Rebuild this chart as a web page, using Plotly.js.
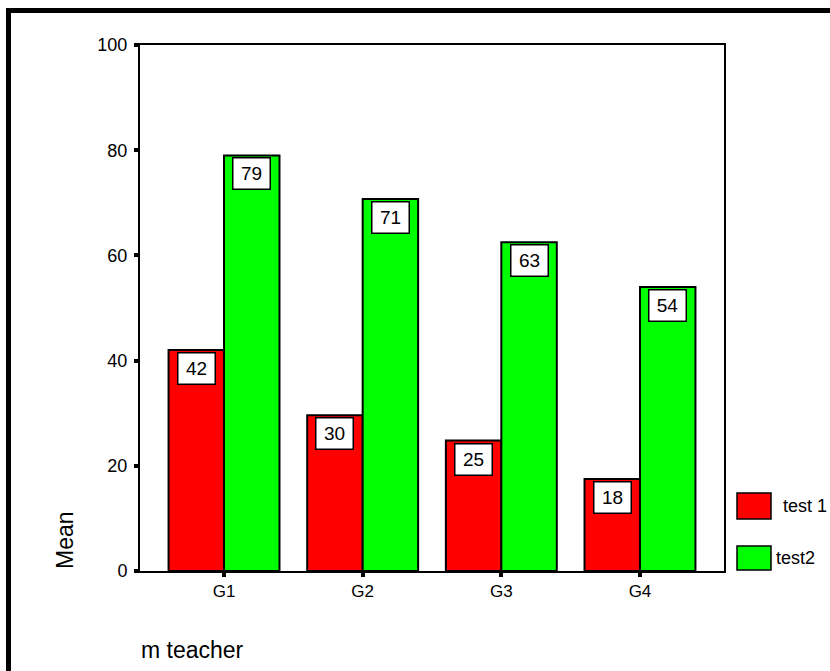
<!DOCTYPE html>
<html>
<head>
<meta charset="utf-8">
<script src="https://cdn.plot.ly/plotly-3.0.1.min.js"></script>
<style>
  html, body { margin: 0; padding: 0; background: #fff; }
  #wrap { position: relative; width: 830px; height: 671px; overflow: hidden; }
  #chart { position: absolute; left: 0; top: 0; width: 830px; height: 671px; }
  #frame { position: absolute; left: 6px; top: 8px; width: 900px; height: 800px;
           border-left: 5px solid #000; border-top: 5px solid #000; pointer-events: none; }
</style>
</head>
<body>
<div id="wrap">
  <div id="chart"></div>
  <div id="frame"></div>
</div>
<script>
// ---- data ----
var categories = ["G1", "G2", "G3", "G4"];
var test1 = [42, 29.6, 24.8, 17.5];
var test2 = [79, 70.7, 62.5, 54];
var test1Labels = ["42", "30", "25", "18"];
var test2Labels = ["79", "71", "63", "54"];
var seriesNames = ["test 1", "test2"];
var yTicks = [0, 20, 40, 60, 80, 100];

// ---- layout constants ----
var W = 830, H = 671;
var M = { l: 140, r: 106, t: 45, b: 100 };
var PW = W - M.l - M.r, PH = H - M.t - M.b;
function px(x) { return (x - M.l) / PW; }
function py(y) { return (H - M.b - y) / PH; }

var FONT = "Liberation Sans, Arial, sans-serif";
var RED = "#ff0000", GREEN = "#00ff00";
var barW = 0.4; // (1 - bargap) / 2

var traces = [
  { type: "bar", name: seriesNames[0], x: categories.map(function (c, i) { return i; }), y: test1,
    marker: { color: RED, line: { color: "#000", width: 2 } }, hoverinfo: "skip" },
  { type: "bar", name: seriesNames[1], x: categories.map(function (c, i) { return i; }), y: test2,
    marker: { color: GREEN, line: { color: "#000", width: 2 } }, hoverinfo: "skip" }
];

var annotations = [];
function addLabels(vals, labels, off) {
  vals.forEach(function (v, i) {
    annotations.push({
      xref: "x", yref: "y", x: i + off, y: v, text: labels[i],
      showarrow: false, xanchor: "center", yanchor: "top", yshift: -2,
      font: { family: FONT, size: 19, color: "#000" },
      bgcolor: "#fff", bordercolor: "#000", borderwidth: 1.5, borderpad: 2,
      width: 32, height: 26, align: "center", valign: "middle"
    });
  });
}
addLabels(test1, test1Labels, -barW / 2);
addLabels(test2, test2Labels, barW / 2);

// axis titles (SPSS style placement)
annotations.push({ xref: "paper", yref: "paper", x: px(65), y: py(540), text: "Mean",
  textangle: -90, showarrow: false, xanchor: "center", yanchor: "middle",
  font: { family: FONT, size: 23, color: "#000" } });
annotations.push({ xref: "paper", yref: "paper", x: px(139), y: py(650), text: "m teacher",
  showarrow: false, xanchor: "left", yanchor: "middle",
  font: { family: FONT, size: 23, color: "#000" } });

// legend texts
annotations.push({ xref: "paper", yref: "paper", x: px(781), y: py(506), text: seriesNames[0],
  showarrow: false, xanchor: "left", yanchor: "middle",
  font: { family: FONT, size: 18, color: "#000" } });
annotations.push({ xref: "paper", yref: "paper", x: px(774), y: py(558), text: seriesNames[1],
  showarrow: false, xanchor: "left", yanchor: "middle",
  font: { family: FONT, size: 18, color: "#000" } });

var shapes = [
  { type: "rect", xref: "paper", yref: "paper", x0: px(737), x1: px(771), y0: py(519), y1: py(493),
    fillcolor: RED, line: { color: "#000", width: 1.5 } },
  { type: "rect", xref: "paper", yref: "paper", x0: px(737), x1: px(771), y0: py(570), y1: py(546),
    fillcolor: GREEN, line: { color: "#000", width: 1.5 } }
];

var layout = {
  width: W, height: H,
  margin: M,
  paper_bgcolor: "#fff", plot_bgcolor: "#fff",
  showlegend: false,
  barmode: "group", bargap: 0.2, bargroupgap: 0,
  font: { family: FONT, color: "#000" },
  xaxis: {
    range: [-0.606, 3.606], tickmode: "array", tickvals: [0, 1, 2, 3], ticktext: categories,
    showgrid: false, zeroline: false, showline: true, mirror: true, linecolor: "#000", linewidth: 2,
    ticks: "outside", ticklen: 4, tickwidth: 4, tickcolor: "#000",
    tickfont: { family: FONT, size: 17, color: "#000" }, fixedrange: true
  },
  yaxis: {
    range: [0, 100], tickmode: "array", tickvals: yTicks, ticktext: yTicks.map(String),
    showgrid: false, zeroline: false, showline: true, mirror: true, linecolor: "#000", linewidth: 2,
    ticks: "outside", ticklen: 4, tickwidth: 4, tickcolor: "#000", ticklabelstandoff: 3,
    tickfont: { family: FONT, size: 18, color: "#000" }, fixedrange: true
  },
  annotations: annotations,
  shapes: shapes
};

Plotly.newPlot("chart", traces, layout, { staticPlot: true, displayModeBar: false });
</script>
</body>
</html>
